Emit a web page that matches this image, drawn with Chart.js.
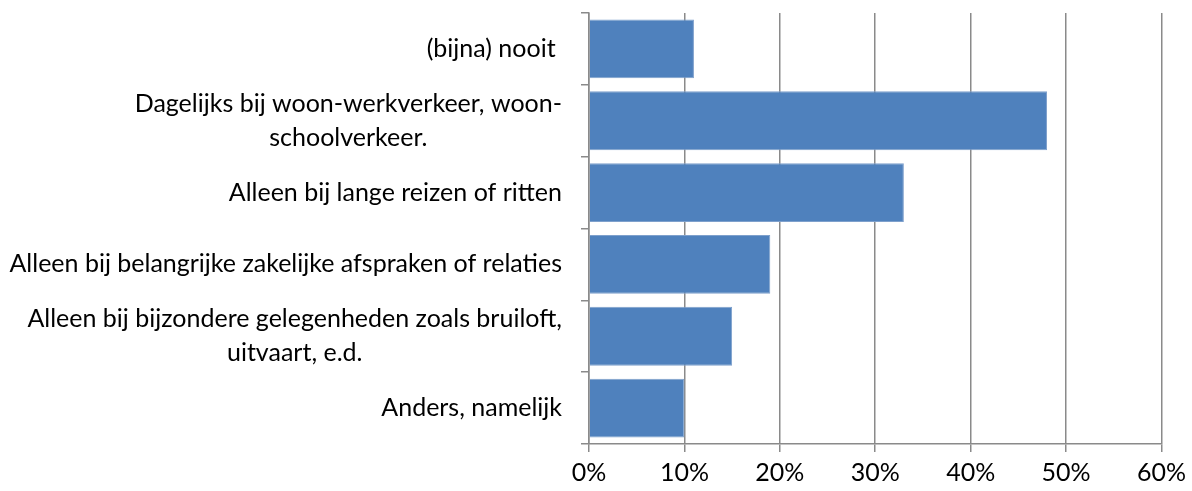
<!DOCTYPE html>
<html>
<head>
    <title>Gebruik</title>
    <script src="https://cdn.jsdelivr.net/npm/chart.js"></script>
    <style>
        body {
            margin: 0;
            background: #fff;
        }
        #wrap {
            width: 1192px;
            height: 491px;
        }
    </style>
</head>
<body>

<div id="wrap">
    <canvas id="barChart"></canvas>
</div>

<script>
    const categories = [
        ["(bijna) nooit "],
        ["Dagelijks bij woon-werkverkeer, woon-", "schoolverkeer."],
        ["Alleen bij lange reizen of ritten"],
        ["Alleen bij belangrijke zakelijke afspraken of relaties"],
        ["Alleen bij bijzondere gelegenheden zoals bruiloft,", "uitvaart, e.d."],
        ["Anders, namelijk"]
    ];
    const percentages = [11, 48, 33, 19, 15, 10];
    const xTicks = [0, 10, 20, 30, 40, 50, 60];

    const fontFamily = "Lato, 'Open Sans', sans-serif";
    const fontSize = 25;
    const axisGray = "#8a8a8a";

    // category labels: block right-aligned to the axis, lines centred inside the block
    const categoryLabels = {
        id: "categoryLabels",
        afterDraw(chart) {
            const ctx = chart.ctx;
            const yScale = chart.scales.y;
            const rightEdge = chart.chartArea.left - 27;
            const lineHeight = 34;
            ctx.save();
            ctx.font = fontSize + "px " + fontFamily;
            ctx.fillStyle = "#000";
            ctx.textAlign = "center";
            ctx.textBaseline = "middle";
            categories.forEach((lines, i) => {
                const widest = Math.max(...lines.map(l => ctx.measureText(l).width));
                const cx = rightEdge - widest / 2;
                const cy = yScale.getPixelForValue(i);
                const startY = cy - (lines.length - 1) * lineHeight / 2;
                lines.forEach((line, j) => {
                    ctx.fillText(line, cx, startY + j * lineHeight);
                });
            });
            ctx.restore();
        }
    };

    const ctx = document.getElementById("barChart").getContext("2d");
    new Chart(ctx, {
        type: "bar",
        data: {
            labels: categories,
            datasets: [{
                data: percentages,
                backgroundColor: "#4f81bd",
                borderColor: "#7ea0cc",
                borderWidth: 1,
                barPercentage: 0.82,
                categoryPercentage: 1
            }]
        },
        options: {
            indexAxis: "y",
            responsive: true,
            maintainAspectRatio: false,
            animation: false,
            layout: {
                padding: { top: 13, right: 29, left: 0, bottom: 0 }
            },
            plugins: {
                legend: { display: false },
                tooltip: { enabled: false }
            },
            scales: {
                x: {
                    min: 0,
                    max: 60,
                    afterBuildTicks: s => { s.ticks = xTicks.map(v => ({ value: v })); },
                    ticks: {
                        callback: v => v + "%",
                        color: "#000",
                        padding: 6,
                        font: { family: fontFamily, size: fontSize }
                    },
                    grid: {
                        color: axisGray,
                        lineWidth: 1.5,
                        tickLength: 8
                    },
                    border: { color: axisGray, width: 1.5 },
                    afterFit: s => { s.height = 47; }
                },
                y: {
                    ticks: { display: false },
                    grid: {
                        drawOnChartArea: false,
                        color: axisGray,
                        lineWidth: 1.5,
                        tickLength: 8
                    },
                    border: { color: axisGray, width: 1.5 },
                    afterFit: s => { s.width = 589; }
                }
            }
        },
        plugins: [categoryLabels]
    });
</script>

</body>
</html>
